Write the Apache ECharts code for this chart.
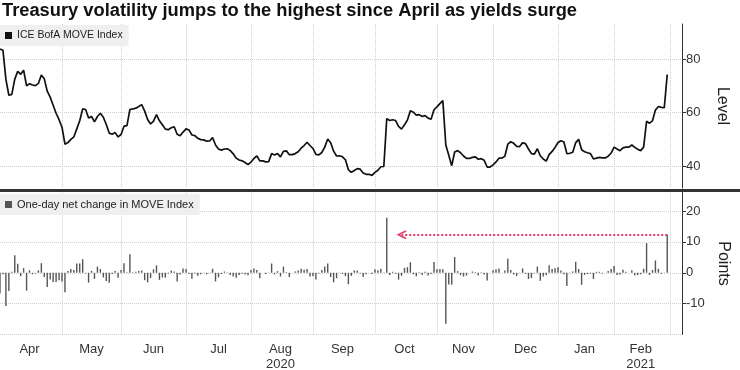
<!DOCTYPE html>
<html><head><meta charset="utf-8">
<script src="https://cdn.jsdelivr.net/npm/echarts@6/dist/echarts.min.js"></script>
<style>html,body{margin:0;padding:0;background:#fff}#c{width:740px;height:370px}</style>
</head><body><div id="c"></div>
<script>
const chartTitle = 'Treasury volatility jumps to the highest since April as yields surge';
const seriesNames = ['ICE BofA MOVE Index', 'One-day net change in MOVE Index'];
const axisNames = ['Level', 'Points'];
const firstDay = '2020-04-01';
const lastDay = '2021-03-05';
const marketHolidays = ['2020-04-10','2020-05-25','2020-07-03','2020-09-07','2020-10-12','2020-11-11','2020-11-26','2020-12-25','2021-01-01','2021-01-18','2021-02-15'];
const monthNames = ['Jan','Feb','Mar','Apr','May','Jun','Jul','Aug','Sep','Oct','Nov','Dec'];
const yearLabels = {'2020-08':'2020','2021-02':'2021'};
const unlabeledMonths = ['2021-03'];

const moveLevel = [
83.7,83.2,72.4,66.5,66.8,72.5,75.4,74.3,75.8,70.0,
70.8,70.3,70.1,70.9,74.0,72.6,68.0,65.8,62.8,59.8,
57.4,54.6,48.3,48.9,50.1,51.0,54.0,57.0,61.4,61.2,
58.0,58.6,56.6,58.6,59.8,58.3,55.6,52.4,52.0,52.6,
51.0,51.9,55.0,55.2,61.2,61.4,61.7,62.3,63.0,60.6,
57.5,55.8,56.9,59.3,57.0,55.5,53.9,53.7,54.4,54.8,
52.0,51.4,52.8,54.0,53.6,51.7,51.5,50.5,50.0,49.9,
49.4,49.5,50.8,48.0,46.5,46.1,46.5,46.6,45.9,44.7,
43.1,42.4,42.1,41.5,40.7,41.6,43.0,43.9,42.1,42.1,
41.7,41.8,44.8,44.3,44.8,43.6,45.6,45.8,44.4,44.4,
44.8,45.5,46.8,47.8,49.0,47.8,46.7,44.5,44.3,45.2,
47.2,50.2,48.8,45.7,43.9,44.0,43.6,42.5,38.8,37.8,
38.5,39.2,39.0,37.6,37.1,37.1,36.7,37.8,38.6,39.9,
40.0,57.8,57.1,57.4,57.1,54.9,53.9,55.5,57.3,60.7,
60.2,59.1,59.3,58.6,58.9,58.0,57.6,61.1,62.2,63.4,
64.5,48.0,44.2,40.3,45.4,45.9,45.1,43.9,43.0,43.0,
43.4,43.6,42.7,42.9,42.3,39.8,39.8,40.6,41.7,43.1,
43.1,43.8,48.3,49.2,48.6,47.5,47.4,48.8,48.5,46.5,
44.8,44.6,46.6,44.0,42.8,42.0,44.4,45.6,47.1,48.9,
49.6,49.1,44.8,44.9,45.3,48.9,50.1,46.2,45.5,45.1,
44.8,42.8,43.1,43.4,43.2,43.2,43.8,45.0,47.2,46.5,
45.9,46.9,47.2,47.2,48.0,47.1,46.4,45.9,47.2,56.8,
56.1,57.0,61.0,62.3,62.0,61.9,74.2];

const netChange = [
-6.7,-0.5,-10.8,-5.9,0.3,5.7,2.9,-1.1,1.5,-5.8,
0.8,-0.5,-0.2,0.8,3.1,-1.4,-4.6,-2.2,-3.0,-3.0,
-2.4,-2.8,-6.3,0.6,1.2,0.9,3.0,3.0,4.4,-0.2,
-3.2,0.6,-2.0,2.0,1.2,-1.5,-2.7,-3.2,-0.4,0.6,
-1.6,0.9,3.1,0.2,6.0,0.2,0.3,0.6,0.7,-2.4,
-3.1,-1.7,1.1,2.4,-2.3,-1.5,-1.6,-0.2,0.7,0.4,
-2.8,-0.6,1.4,1.2,-0.4,-1.9,-0.2,-1.0,-0.5,-0.1,
-0.5,0.1,1.3,-2.8,-1.5,-0.4,0.4,0.1,-0.7,-1.2,
-1.6,-0.7,-0.3,-0.6,-0.8,0.9,1.4,0.9,-1.8,0.0,
-0.4,0.1,3.0,-0.5,0.5,-1.2,2.0,0.2,-1.4,0.0,
0.4,0.7,1.3,1.0,1.2,-1.2,-1.1,-2.2,-0.2,0.9,
2.0,3.0,-1.4,-3.1,-1.8,0.1,-0.4,-1.1,-3.7,-1.0,
0.7,0.7,-0.2,-1.4,-0.5,0.0,-0.4,1.1,0.8,1.3,
0.1,17.8,-0.7,0.3,-0.3,-2.2,-1.0,1.6,1.8,3.4,
-0.5,-1.1,0.2,-0.7,0.3,-0.9,-0.4,3.5,1.1,1.2,
1.1,-16.5,-3.8,-3.9,5.1,0.5,-0.8,-1.2,-0.9,0.0,
0.4,0.2,-0.9,0.2,-0.6,-2.5,0.0,0.8,1.1,1.4,
0.0,0.7,4.5,0.9,-0.6,-1.1,-0.1,1.4,-0.3,-2.0,
-1.7,-0.2,2.0,-2.6,-1.2,-0.8,2.4,1.2,1.5,1.8,
0.7,-0.5,-4.3,0.1,0.4,3.6,1.2,-3.9,-0.7,-0.4,
-0.3,-2.0,0.3,0.3,-0.2,0.0,0.6,1.2,2.2,-0.7,
-0.6,1.0,0.3,0.0,0.8,-0.9,-0.7,-0.5,1.3,9.6,
-0.7,0.9,4.0,1.3,-0.3,-0.1,12.3];

const levelRange = [32, 93];
const changeRange = [-20, 26];
const changeStep = 10;
const arrowFrom = '2021-02-26';
const arrowTo = '2020-10-15';
const arrowValue = 12.3;

// ---- build trading-day categories ----
const dates = [];
for (let t = Date.parse(firstDay + 'T00:00:00Z'); t <= Date.parse(lastDay + 'T00:00:00Z'); t += 86400000) {
  const d = new Date(t);
  const wd = d.getUTCDay();
  const s = d.toISOString().slice(0, 10);
  if (wd === 0 || wd === 6 || marketHolidays.indexOf(s) >= 0) continue;
  dates.push(s);
}
const monthStart = {};
const groups = {};
dates.forEach((d, i) => {
  const m = d.slice(0, 7);
  (groups[m] = groups[m] || []).push(i);
  if (i > 0 && dates[i - 1].slice(0, 7) !== m) monthStart[i] = true;
});
const labelAt = {};
Object.keys(groups).forEach(m => {
  if (unlabeledMonths.indexOf(m) >= 0) return;
  const idx = groups[m];
  const mid = Math.ceil((idx[0] + idx[idx.length - 1]) / 2);
  labelAt[mid] = monthNames[+m.slice(5, 7) - 1] + (yearLabels[m] ? '\n' + yearLabels[m] : '');
});

const SANS = "'Liberation Sans',Arial,sans-serif";
const gridDot = { color: '#d0d0d0', type: 'dotted', width: 1 };

const chart = echarts.init(document.getElementById('c'), null, { renderer: 'canvas' });

function xAxisFor(gi, labels) {
  return {
    type: 'category', gridIndex: gi, data: dates, boundaryGap: false,
    axisLine: { show: false }, axisTick: { show: false },
    axisLabel: labels ? {
      show: true, interval: (i) => !!labelAt[i], formatter: (v, i) => labelAt[i] || '',
      fontFamily: SANS, fontSize: 13, color: '#333', margin: 7, lineHeight: 15
    } : { show: false },
    splitLine: { show: true, interval: (i) => !!monthStart[i], lineStyle: gridDot }
  };
}

const option = {
  animation: false,
  backgroundColor: '#fff',
  title: {
    text: chartTitle, left: 2, top: 2, padding: 0,
    textStyle: { fontFamily: SANS, fontWeight: 'bold', fontSize: 18.3, color: '#111' }
  },
  legend: [
    { data: [seriesNames[0]], left: 0, top: 25, padding: [5, 6, 5, 5], backgroundColor: '#efefef',
      icon: 'rect', itemWidth: 7, itemHeight: 7, selectedMode: false,
      textStyle: { fontFamily: SANS, fontSize: 10.5, color: '#222' } },
    { data: [seriesNames[1]], left: 0, top: 194, padding: [5, 6, 5, 5], backgroundColor: '#efefef',
      icon: 'rect', itemWidth: 7, itemHeight: 7, selectedMode: false,
      textStyle: { fontFamily: SANS, fontSize: 11, color: '#222' } }
  ],
  grid: [
    { left: 0, right: 58, top: 24, height: 164, outerBoundsMode: 'none', containLabel: false },
    { left: 0, right: 58, top: 192.5, height: 142, outerBoundsMode: 'none', containLabel: false }
  ],
  xAxis: [xAxisFor(0, false), xAxisFor(1, true)],
  yAxis: [
    { type: 'value', gridIndex: 0, position: 'right', min: levelRange[0], max: levelRange[1], splitNumber: 3,
      axisLine: { show: true, lineStyle: { color: '#333', width: 1 } },
      axisTick: { show: true, length: 4, lineStyle: { color: '#333' } },
      axisLabel: { fontFamily: SANS, fontSize: 13, color: '#333', margin: 4, showMinLabel: false, showMaxLabel: false },
      splitLine: { show: true, lineStyle: gridDot, showMinLine: false, showMaxLine: false },
      name: axisNames[0], nameLocation: 'middle', nameRotate: -90, nameGap: 32,
      nameTextStyle: { fontFamily: SANS, fontSize: 16, color: '#222' } },
    { type: 'value', gridIndex: 1, position: 'right', min: changeRange[0], max: changeRange[1], interval: changeStep,
      axisLine: { show: true, lineStyle: { color: '#333', width: 1 } },
      axisTick: { show: true, length: 4, lineStyle: { color: '#333' } },
      axisLabel: { fontFamily: SANS, fontSize: 13, color: '#333', margin: 4, showMinLabel: false, showMaxLabel: false },
      splitLine: { show: true, lineStyle: gridDot, showMinLine: true, showMaxLine: false },
      name: axisNames[1], nameLocation: 'middle', nameRotate: -90, nameGap: 32,
      nameTextStyle: { fontFamily: SANS, fontSize: 16, color: '#222' } }
  ],
  series: [
    { name: seriesNames[0], type: 'line', xAxisIndex: 0, yAxisIndex: 0, data: moveLevel,
      showSymbol: false, symbol: 'none', color: '#111',
      lineStyle: { color: '#111', width: 1.7 }, silent: true },
    { name: seriesNames[1], type: 'bar', xAxisIndex: 1, yAxisIndex: 1, data: netChange,
      barWidth: 1.4, itemStyle: { color: '#555' }, silent: true,
      markLine: {
        silent: true, animation: false,
        symbol: ['none', 'path://M5,0 L10,9 L8.4,10 L5,3.4 L1.6,10 L0,9 Z'], symbolSize: [9, 10],
        label: { show: false },
        lineStyle: { color: '#e23a6a', type: 'dotted', width: 2 },
        data: [[{ coord: [arrowFrom, arrowValue] }, { coord: [arrowTo, arrowValue] }]]
      } }
  ],
  graphic: [
    { type: 'rect', left: 0, top: 189, shape: { width: 740, height: 3 }, style: { fill: '#333' }, silent: true }
  ]
};
chart.setOption(option);
</script>
</body></html>
